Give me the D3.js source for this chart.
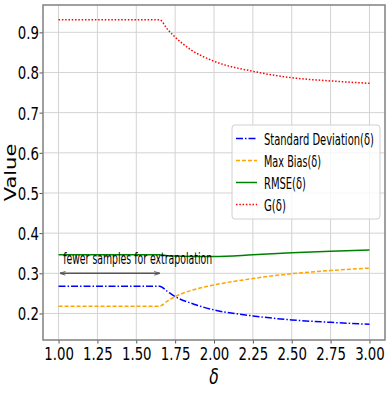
<!DOCTYPE html>
<html>
<head>
<meta charset="utf-8">
<script src="https://cdn.jsdelivr.net/npm/d3@7"></script>
<style>
	body { margin: 0; background: #fff; }
	svg { display: block; }
</style>
</head>
<body>
<script>
	// данные
	const delta = [1.0, 1.65, 1.7, 1.75, 1.85, 2.0, 2.25, 2.5, 2.75, 3.0];
	const stdDev = [0.268, 0.268, 0.255, 0.242, 0.226, 0.209, 0.194, 0.184, 0.178, 0.173];
	const maxBias = [0.218, 0.218, 0.231, 0.242, 0.257, 0.271, 0.287, 0.299, 0.307, 0.313];
	const rmse = [0.346, 0.346, 0.344, 0.343, 0.342, 0.342, 0.346, 0.351, 0.355, 0.358];
	const gValues = [0.931, 0.931, 0.908, 0.888, 0.857, 0.828, 0.803, 0.787, 0.779, 0.773];

	const xTicks = [1.0, 1.25, 1.5, 1.75, 2.0, 2.25, 2.5, 2.75, 3.0];
	const yTicks = [0.2, 0.3, 0.4, 0.5, 0.6, 0.7, 0.8, 0.9];

	const seriesNames = ["Standard Deviation(δ)", "Max Bias(δ)", "RMSE(δ)", "G(δ)"];
	const seriesColors = ["#0000ff", "#ffa500", "#008000", "#ff0000"];

	const note = "fewer samples for extrapolation";
	const noteRange = [1.01, 1.65];
	const noteLevel = 0.3;

	const w = 388,
		h = 393,
		plotL = 43,
		plotR = 385,
		plotT = 5,
		plotB = 340,
		squeeze = 0.74;

	const font = "DejaVu Sans, sans-serif";

	// стили линий
	const dashes = ["7,2,1.5,2", "4,2", null, "1.5,1.8"];

	const series = [stdDev, maxBias, rmse, gValues].map((vals, k) => ({
		name: seriesNames[k],
		color: seriesColors[k],
		dash: dashes[k],
		points: vals.map((v, i) => ({ x: delta[i], y: v }))
	}));

	const xScale = d3.scaleLinear().domain([0.9, 3.1]).range([plotL, plotR]),
		yScale = d3.scaleLinear().domain([0.134, 0.968]).range([plotB, plotT]);

	const svg = d3
		.select("body")
		.append("svg")
		.attr("width", w)
		.attr("height", h);

	// сжатие текста по ширине до нужной длины
	function fitWidth(selection, width) {
		selection.each(function (d, i) {
			const target = typeof width === "function" ? width(d, i) : width;
			const natural = this.getComputedTextLength();
			const x = +this.getAttribute("x") || 0,
				y = +this.getAttribute("y") || 0;
			this.setAttribute("x", 0);
			this.setAttribute("y", 0);
			this.setAttribute("transform", `translate(${x},${y}) scale(${target / natural},1)`);
		});
	}

	// сетка
	svg.append("g")
		.selectAll("line")
		.data(xTicks)
		.enter()
		.append("line")
		.attr("x1", d => xScale(d))
		.attr("x2", d => xScale(d))
		.attr("y1", plotT)
		.attr("y2", plotB)
		.attr("stroke", "#d3d3d3")
		.attr("stroke-width", 1);

	svg.append("g")
		.selectAll("line")
		.data(yTicks)
		.enter()
		.append("line")
		.attr("x1", plotL)
		.attr("x2", plotR)
		.attr("y1", d => yScale(d))
		.attr("y2", d => yScale(d))
		.attr("stroke", "#d3d3d3")
		.attr("stroke-width", 1);

	// оси
	const xAxis = svg
		.append("g")
		.attr("transform", `translate(0,${plotB})`)
		.call(d3.axisBottom(xScale).tickValues(xTicks).tickFormat(d3.format(".2f")).tickSizeOuter(0).tickSize(3.5).tickPadding(3));

	const yAxis = svg
		.append("g")
		.attr("transform", `translate(${plotL},0)`)
		.call(d3.axisLeft(yScale).tickValues(yTicks).tickFormat(d3.format(".1f")).tickSizeOuter(0).tickSize(3.5));

	[xAxis, yAxis].forEach(g => {
		g.select(".domain").remove();
		g.selectAll(".tick line").attr("stroke", "#555");
		g.selectAll(".tick text")
			.attr("font-family", font)
			.attr("font-size", 18)
			.attr("fill", "#000");
	});

	xAxis.selectAll(".tick text")
		.attr("dy", null)
		.attr("y", 20.5)
		.attr("transform", `scale(${squeeze},1)`);

	yAxis.selectAll(".tick text")
		.attr("x", -4 / squeeze)
		.attr("dy", "0.36em")
		.attr("transform", `scale(${squeeze},1)`);

	// рамка
	svg.append("rect")
		.attr("x", plotL)
		.attr("y", plotT)
		.attr("width", plotR - plotL)
		.attr("height", plotB - plotT)
		.attr("fill", "none")
		.attr("stroke", "#808080")
		.attr("stroke-width", 1.5);

	// кривые
	const line = d3
		.line()
		.x(d => xScale(d.x))
		.y(d => yScale(d.y))
		.curve(d3.curveMonotoneX);

	svg.append("g")
		.selectAll("path")
		.data(series)
		.enter()
		.append("path")
		.attr("d", d => line(d.points))
		.attr("fill", "none")
		.attr("stroke", d => d.color)
		.attr("stroke-width", 1.5)
		.attr("stroke-dasharray", d => d.dash);

	// стрелка и подпись
	const defs = svg.append("defs");
	defs.append("marker")
		.attr("id", "head")
		.attr("viewBox", "0 0 10 10")
		.attr("refX", 9)
		.attr("refY", 5)
		.attr("markerWidth", 4)
		.attr("markerHeight", 4)
		.attr("orient", "auto-start-reverse")
		.append("path")
		.attr("d", "M0,2 L10,5 L0,8")
		.attr("fill", "none")
		.attr("stroke", "#555")
		.attr("stroke-width", 1.5);

	svg.append("line")
		.attr("x1", xScale(noteRange[0]))
		.attr("x2", xScale(noteRange[1]))
		.attr("y1", yScale(noteLevel))
		.attr("y2", yScale(noteLevel))
		.attr("stroke", "#555")
		.attr("stroke-width", 1.5)
		.attr("marker-start", "url(#head)")
		.attr("marker-end", "url(#head)");

	svg.append("text")
		.attr("x", xScale(1.03))
		.attr("y", yScale(noteLevel) - 9.5)
		.attr("font-family", font)
		.attr("font-size", 15)
		.text(note)
		.call(fitWidth, 149);

	// легенда
	const legendWidths = [110, 57, 42, 22];
	const legend = svg.append("g");

	legend.append("rect")
		.attr("x", 232)
		.attr("y", 125)
		.attr("width", 148)
		.attr("height", 94)
		.attr("rx", 3)
		.attr("fill", "#fff")
		.attr("fill-opacity", 0.8)
		.attr("stroke", "#d0d0d0");

	const rows = legend
		.selectAll("g")
		.data(series)
		.enter()
		.append("g")
		.attr("transform", (d, i) => `translate(236,${138.5 + i * 22})`);

	rows.append("line")
		.attr("x1", 0)
		.attr("x2", 21)
		.attr("stroke", d => d.color)
		.attr("stroke-width", 1.5)
		.attr("stroke-dasharray", d => d.dash);

	rows.append("text")
		.attr("x", 28)
		.attr("y", 6)
		.attr("font-family", font)
		.attr("font-size", 15)
		.text(d => d.name)
		.call(fitWidth, (d, i) => legendWidths[i]);

	// подписи осей
	svg.append("text")
		.attr("transform", `translate(${xScale(2.0)},384) scale(${squeeze},1)`)
		.attr("text-anchor", "middle")
		.attr("font-family", font)
		.attr("font-size", 21)
		.attr("font-style", "italic")
		.text("δ");

	svg.append("text")
		.attr("transform", `translate(16,${(plotT + plotB) / 2}) rotate(-90) scale(1,${squeeze})`)
		.attr("text-anchor", "middle")
		.attr("font-family", font)
		.attr("font-size", 21)
		.text("Value");
</script>
</body>
</html>
